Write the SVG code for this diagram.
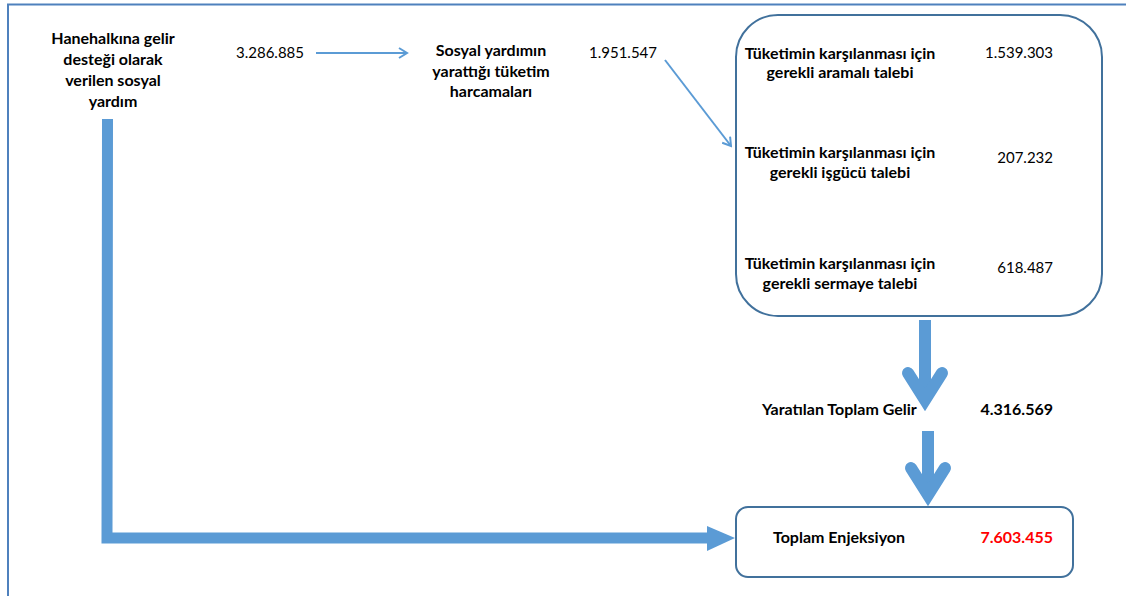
<svg xmlns="http://www.w3.org/2000/svg" width="1126" height="596" viewBox="0 0 1126 596">
<style>
text{font-family:Lato,"Liberation Sans",sans-serif;font-size:15px;fill:#000}
.b{font-weight:bold;font-size:16px}
.c{text-anchor:middle}
.r{text-anchor:end}
.box{fill:none;stroke:#41719C;stroke-width:2}
.thin{fill:none;stroke:#5B9BD5;stroke-width:2}
.fat{fill:none;stroke:#5B9BD5;stroke-width:11}
.chev{fill:none;stroke:#5B9BD5;stroke-width:12;stroke-linecap:round;stroke-linejoin:miter;stroke-miterlimit:10}
</style>
<defs>
<marker id="open" markerWidth="12" markerHeight="12" refX="10" refY="6" orient="auto" markerUnits="userSpaceOnUse">
<path d="M2,1 L10,6 L2,11" fill="none" stroke="#5B9BD5" stroke-width="2"/>
</marker>
</defs>
<rect width="1126" height="596" fill="#fff"/>
<g id="frame">
<path d="M8,596 L8,4.5 L1126,4.5" fill="none" stroke="#4F81BD" stroke-width="2"/>
</g>
<g id="connectors">
<line class="thin" x1="316" y1="53" x2="407" y2="53" marker-end="url(#open)"/>
<line class="thin" x1="665" y1="60" x2="731" y2="146" marker-end="url(#open)"/>
<path class="fat" d="M107.5,119 L107,538 L710,538"/>
<polygon points="707,526 735,538 707,551" fill="#5B9BD5"/>
<line class="fat" x1="925" y1="320" x2="925" y2="396" style="stroke-width:12"/>
<polyline class="chev" points="908,373 925,400 942,373"/>
<line class="fat" x1="928" y1="431" x2="928" y2="490" style="stroke-width:12"/>
<polyline class="chev" points="911,468 928,495 945,468"/>
</g>
<g id="n-sosyal-yardim">
<text class="b c" x="113" y="44">Hanehalkına gelir</text>
<text class="b c" x="113" y="65">desteği olarak</text>
<text class="b c" x="113" y="86">verilen sosyal</text>
<text class="b c" x="113" y="107">yardım</text>
</g>
<g id="n-v1"><text x="236" y="58">3.286.885</text></g>
<g id="n-tuketim">
<text class="b c" x="491" y="56">Sosyal yardımın</text>
<text class="b c" x="491" y="77">yarattığı tüketim</text>
<text class="b c" x="491" y="97">harcamaları</text>
</g>
<g id="n-v2"><text x="589" y="58">1.951.547</text></g>
<g id="n-talep">
<rect class="box" x="736" y="15" width="366" height="301" rx="42"/>
<text class="b c" x="840" y="59">Tüketimin karşılanması için</text>
<text class="b c" x="840" y="78">gerekli aramalı talebi</text>
<text class="r" x="1053" y="58">1.539.303</text>
<text class="b c" x="840" y="158">Tüketimin karşılanması için</text>
<text class="b c" x="840" y="178">gerekli işgücü talebi</text>
<text class="r" x="1053" y="163">207.232</text>
<text class="b c" x="840" y="269">Tüketimin karşılanması için</text>
<text class="b c" x="840" y="289">gerekli sermaye talebi</text>
<text class="r" x="1053" y="273">618.487</text>
</g>
<g id="n-gelir">
<text class="b" x="762" y="415">Yaratılan Toplam Gelir</text>
<text class="b r" x="1053" y="415">4.316.569</text>
</g>
<g id="n-enjeksiyon">
<rect class="box" x="736" y="507" width="337" height="70" rx="12"/>
<text class="b" x="773" y="543">Toplam Enjeksiyon</text>
<text class="b r" x="1053" y="543" style="fill:#FF0000">7.603.455</text>
</g>
</svg>
